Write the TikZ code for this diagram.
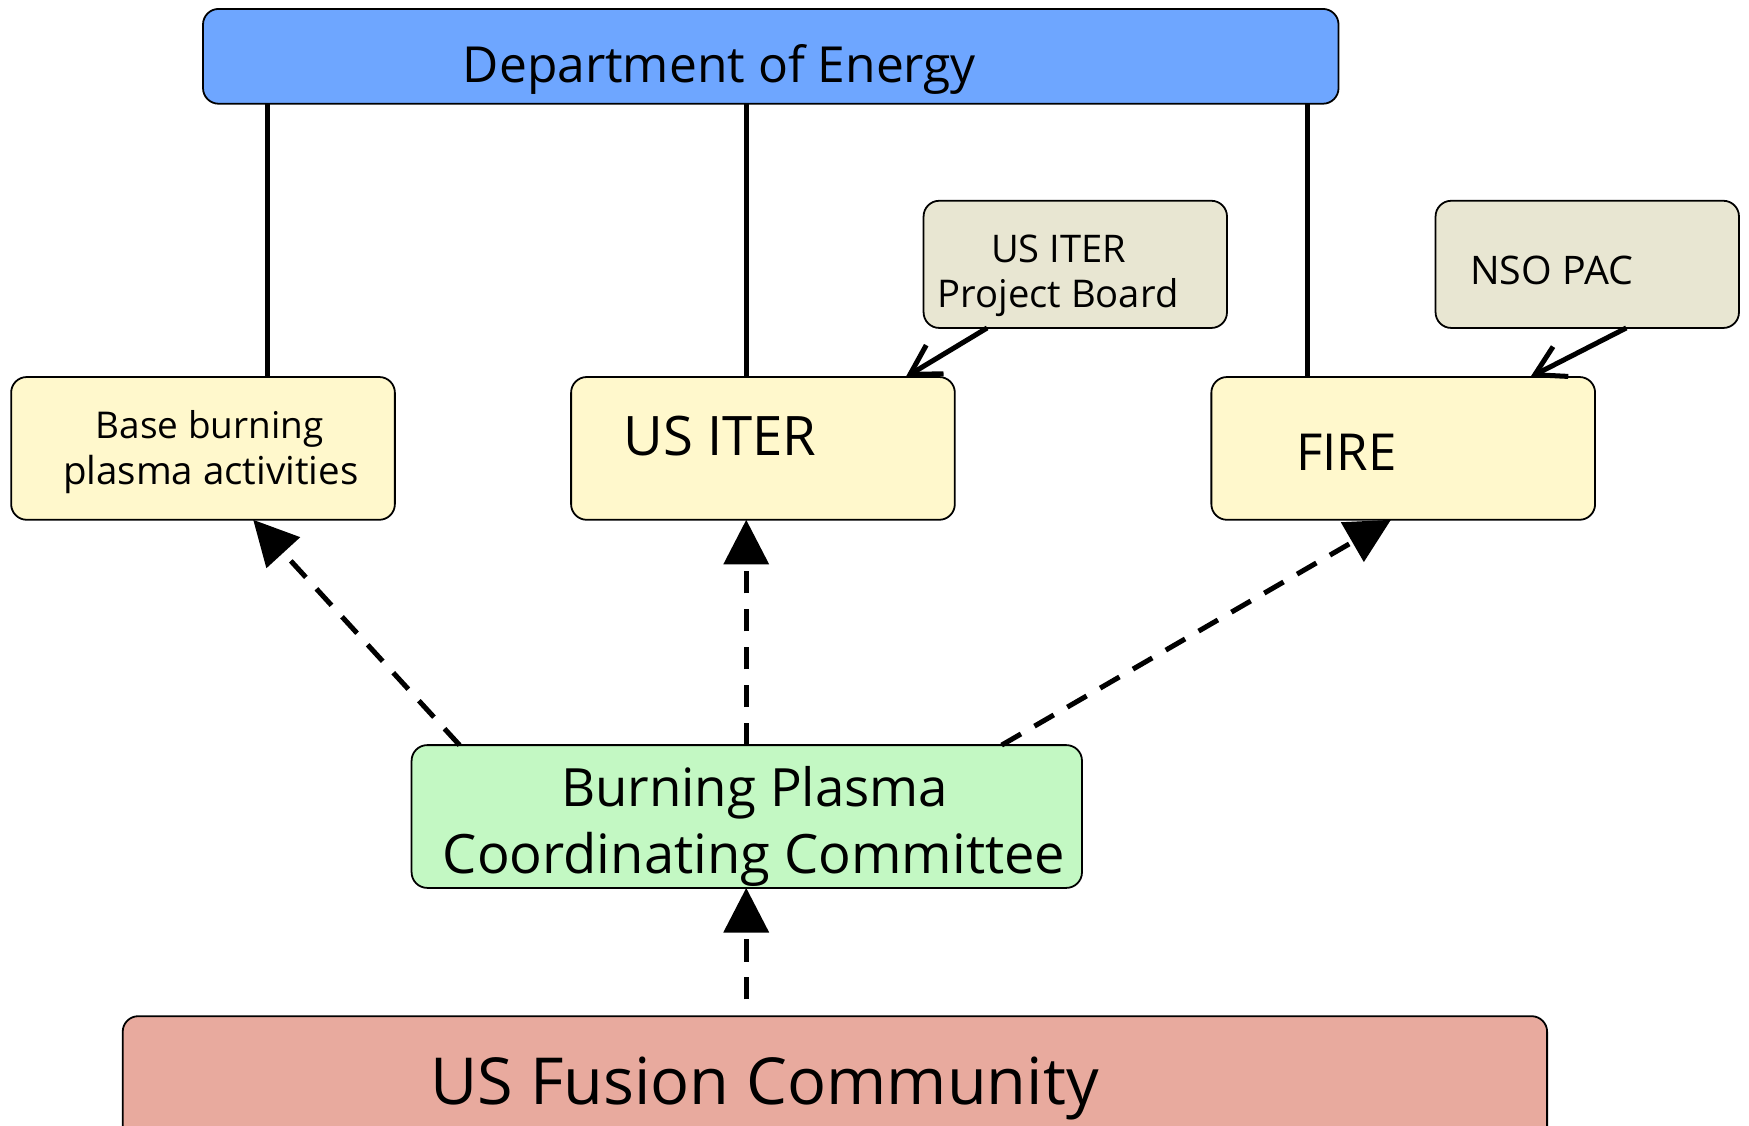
\documentclass[tikz,border=0pt]{standalone}
\usepackage{fontspec}
\setmainfont{Open Sans}
\usetikzlibrary{arrows.meta}
\definecolor{doeblue}{RGB}{110,166,255}
\definecolor{boxyellow}{RGB}{255,248,204}
\definecolor{boxbeige}{RGB}{232,230,210}
\definecolor{boxgreen}{RGB}{195,248,195}
\definecolor{boxsalmon}{RGB}{232,170,158}
\newcommand{\fitw}[2]{\resizebox{#1}{!}{#2}}
\begin{document}
\begin{tikzpicture}[x=1pt,y=-1pt,
  box/.style={draw=black, line width=1.6pt, rounded corners=14pt, inner sep=0pt, outer sep=0pt},
  txt/.style={anchor=base, inner sep=0pt, font=\fontsize{40}{48}\selectfont},
  conn/.style={line width=4.5pt},
  dasharrow/.style={line width=4.5pt, dash pattern=on 20pt off 14pt, -{Triangle[length=40pt,width=40pt]}},
  barb/.style={line width=4.5pt, -{Straight Barb[length=26pt,width=30pt]}}]
\useasboundingbox (0,0) rectangle (1568,1009);
\clip (0,0) rectangle (1568,1009);
% boxes
\node[box, fill=doeblue, minimum width=1018pt, minimum height=85pt] (doe) at (691,50.5) {};
\node[box, fill=boxyellow, minimum width=344pt, minimum height=128pt] (base) at (182,402) {};
\node[box, fill=boxyellow, minimum width=344pt, minimum height=128pt] (iter) at (684,402) {};
\node[box, fill=boxyellow, minimum width=344pt, minimum height=128pt] (fire) at (1258,402) {};
\node[box, fill=boxbeige, minimum width=272pt, minimum height=114pt] (pb) at (964,237) {};
\node[box, fill=boxbeige, minimum width=272pt, minimum height=114pt] (nso) at (1423,237) {};
\node[box, fill=boxgreen, minimum width=601pt, minimum height=128pt] (bpcc) at (669.5,732) {};
\node[box, fill=boxsalmon, minimum width=1277pt, minimum height=140pt] (usfc) at (748.5,981) {};
% texts
\node[txt] (doet) at (645,74) {\fitw{460pt}{Department of Energy}};
\node[txt] (baset1) at (188,393) {\fitw{204pt}{Base burning}};
\node[txt] (baset2) at (189,434) {\fitw{265pt}{plasma activities}};
\node[txt] (itert) at (645.5,408) {\fitw{173pt}{US ITER}};
\node[txt] (pbt1) at (949,235.5) {\fitw{121pt}{US ITER}};
\node[txt] (pbt2) at (948.5,276) {\fitw{216pt}{Project Board}};
\node[txt] (nsot) at (1391,255) {\fitw{146pt}{NSO PAC}};
\node[txt] (firet) at (1207,422) {\fitw{90pt}{FIRE}};
\node[txt] (bpcct1) at (676.5,723) {\fitw{347pt}{Burning Plasma}};
\node[txt] (bpcct2) at (676,783.5) {\fitw{558pt}{Coordinating Committee}};
\node[txt] (usfct) at (685.5,990.5) {\fitw{599pt}{US Fusion Community}};
% solid connectors from DoE
\draw[conn] ([xshift=58pt]base.north) -- ([xshift=58pt]base.north |- doe.south);
\draw[conn] ([xshift=-15pt]iter.north) -- ([xshift=-15pt]iter.north |- doe.south);
\draw[conn] ([xshift=-86pt]fire.north) -- ([xshift=-86pt]fire.north |- doe.south);
% advisory arrows
\draw[barb] ([xshift=-79pt]pb.south) -- ([xshift=128pt]iter.north);
\draw[barb] ([xshift=35pt]nso.south) -- ([xshift=114pt]fire.north);
% dashed arrows
\draw[dasharrow] ([xshift=-257.5pt]bpcc.north) -- ([xshift=45pt]base.south);
\draw[dasharrow] ([xshift=-0.5pt]bpcc.north) -- ([xshift=-15pt]iter.south);
\draw[dasharrow] ([xshift=228.5pt]bpcc.north) -- ([xshift=-11pt]fire.south);
\draw[dasharrow, shorten <=15pt] ([xshift=-79.5pt]usfc.north) -- ([xshift=-0.5pt]bpcc.south);
\end{tikzpicture}
\end{document}
